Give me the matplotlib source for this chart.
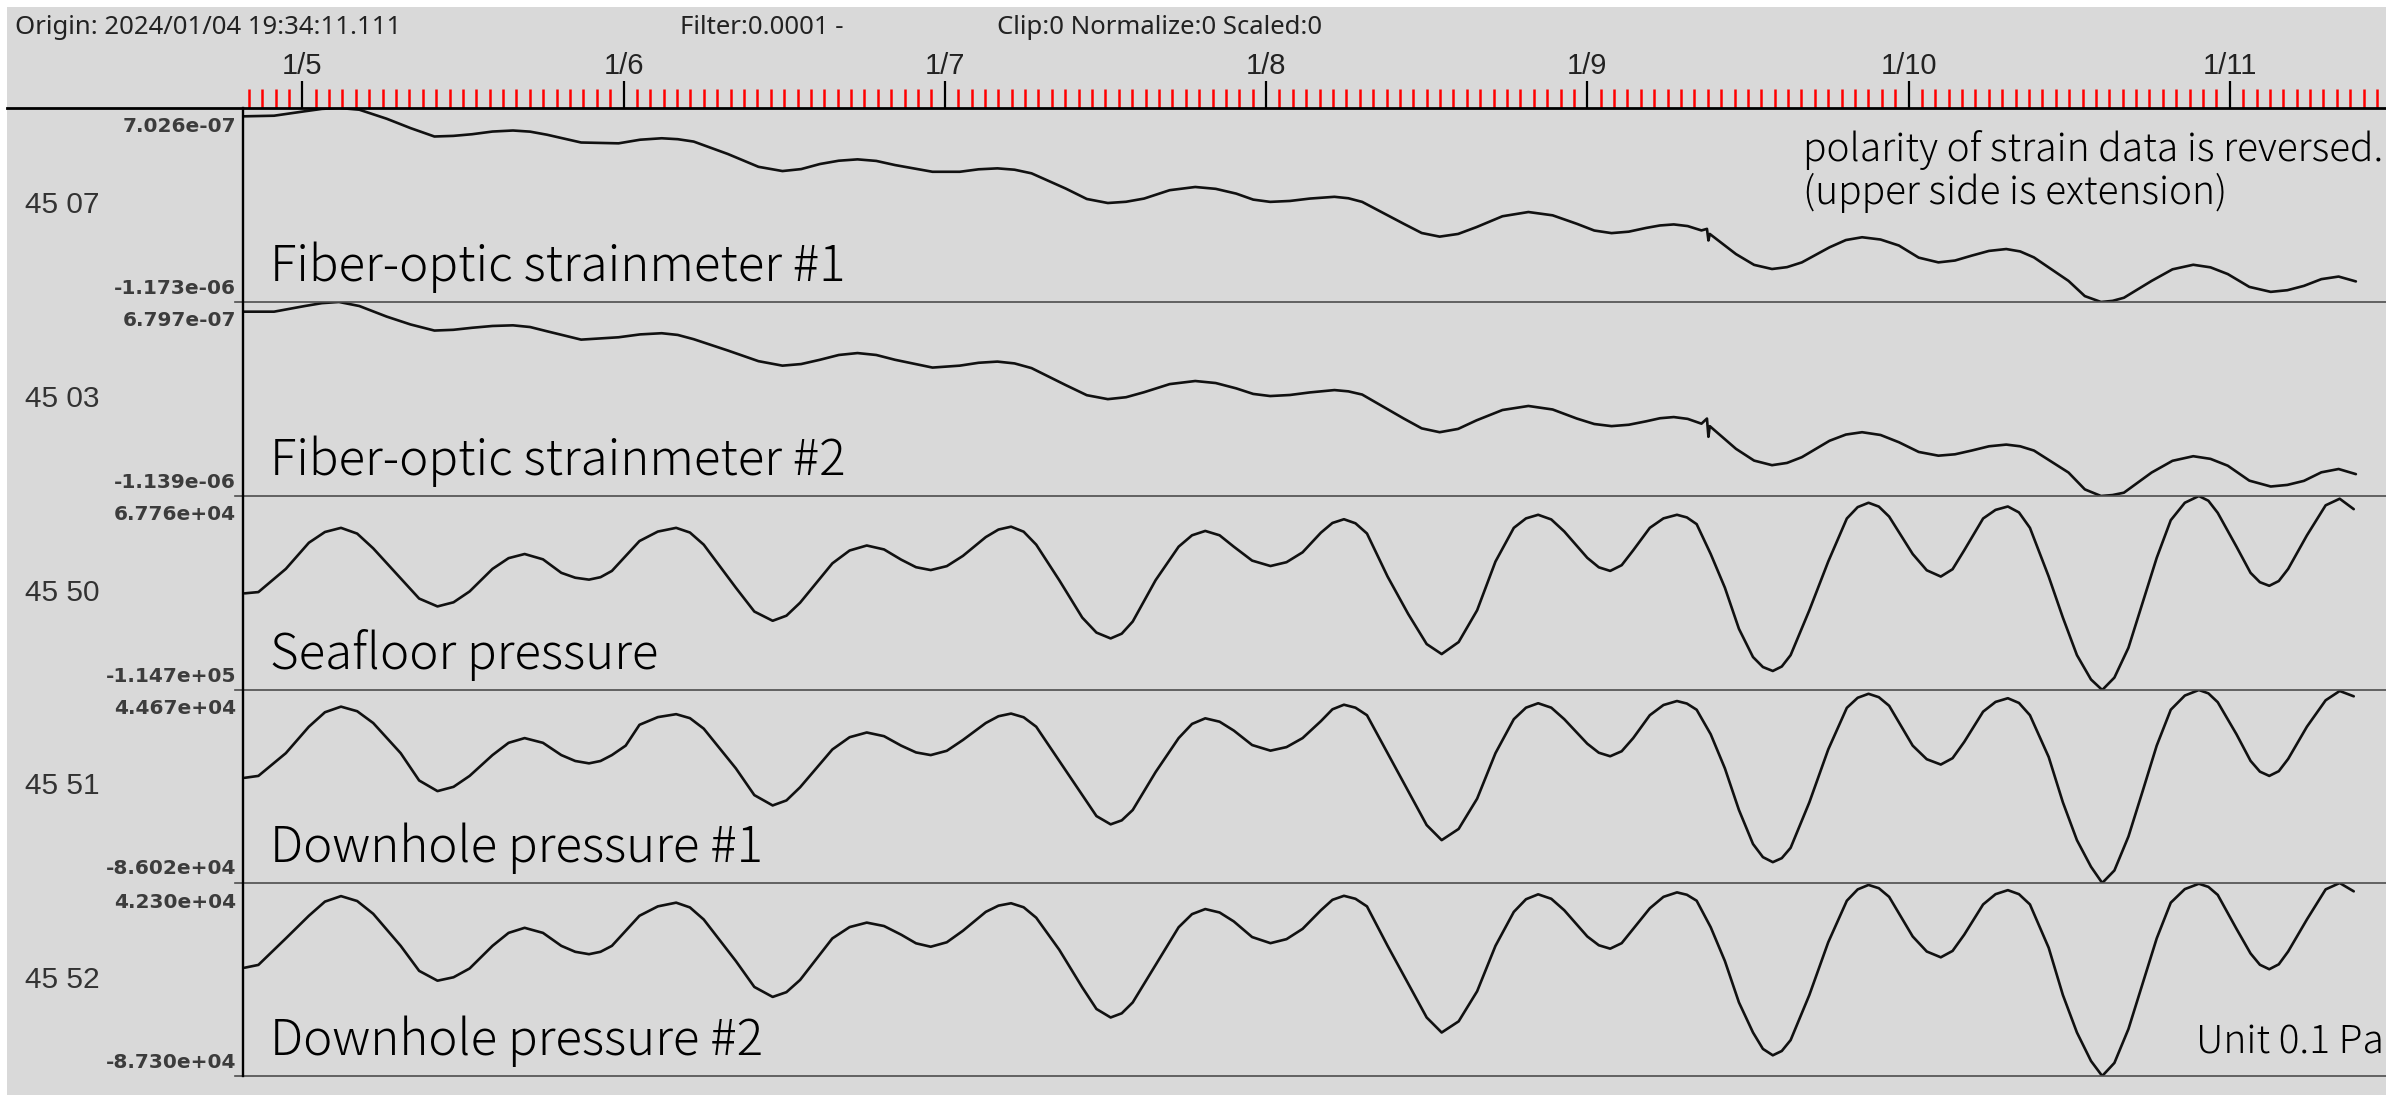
import datetime as dt
import numpy as np
import matplotlib
matplotlib.use("Agg")
import matplotlib.pyplot as plt
import matplotlib.dates as mdates
from matplotlib.lines import Line2D
from matplotlib.patches import Rectangle
from matplotlib.ticker import FuncFormatter

# canvas in pixels
W, H = 2386, 1095
DPI = 100
BG = '#d9d9d9'

origin = dt.datetime(2024, 1, 4, 19, 34, 11, 111000)
span_hours = 160.1

# hours after origin, pressure channels
t_press = [0.12, 1.15, 3.20, 4.92, 6.12, 7.32, 8.53, 9.73, 11.78, 13.16,
           14.53, 15.73, 16.93, 18.64, 19.84, 21.04, 22.41, 23.78, 24.82, 25.85,
           26.71, 27.56, 28.59, 29.62, 30.99, 32.36, 33.39, 34.42, 36.82, 38.20,
           39.57, 40.60, 41.62, 44.03, 45.32, 46.60, 47.89, 49.17, 50.28, 51.38,
           52.58, 53.78, 55.49, 56.44, 57.38, 58.32, 59.26, 60.98, 62.70, 63.76,
           64.82, 65.65, 66.47, 68.18, 69.90, 70.90, 71.89, 72.96, 74.02, 75.39,
           76.76, 77.96, 79.16, 80.53, 81.39, 82.25, 83.11, 83.97, 85.51, 87.05,
           88.43, 89.55, 90.82, 92.20, 93.57, 94.94, 95.85, 96.76, 97.74, 98.71,
           100.43, 101.29, 102.14, 103.00, 103.86, 105.10, 106.12, 107.13, 107.87, 108.60,
           109.65, 110.71, 111.76, 112.81, 113.55, 114.29, 114.96, 115.62, 117.02, 118.43,
           119.82, 120.63, 121.44, 122.21, 122.98, 124.74, 125.79, 126.84, 127.72, 128.59,
           130.00, 130.93, 131.85, 132.68, 133.50, 134.90, 135.96, 137.01, 138.06, 138.90,
           139.81, 140.86, 141.92, 142.97, 144.02, 145.07, 146.12, 146.83, 147.53, 148.93,
           149.98, 150.68, 151.38, 152.09, 152.79, 154.19, 155.59, 156.64, 157.69]

# unit 0.1 Pa
seafloor = [-23800, -22600, -800, 23800, 33900, 37800, 32400, 18500, -9800, -28700,
            -36100, -32200, -22000, -800, 9300, 13200, 8200, -4500, -9100, -10900,
            -8600, -2700, 11400, 25400, 34300, 37800, 33400, 22000, -18500, -40900,
            -49600, -44800, -32600, 4400, 16500, 21200, 17500, 7900, 800, -1900,
            1800, 11400, 29100, 36200, 38900, 34200, 22000, -11400, -46600, -60700,
            -66200, -61700, -50300, -11400, 20100, 30800, 34900, 30800, 20100, 7000,
            1900, 5500, 14800, 33300, 42400, 45900, 42100, 32500, -8000, -43200,
            -71500, -80900, -69600, -39700, 6100, 37800, 46700, 50100, 45700, 34400,
            9600, 700, -2700, 2700, 16700, 37800, 46700, 50100, 47600, 41300,
            13200, -18500, -57200, -83700, -93100, -96800, -92600, -81900, -39700, 6100,
            46600, 57300, 61400, 57800, 48400, 13200, -2100, -8000, -1100, 16700,
            46600, 54700, 57900, 52300, 37800, -8000, -46600, -81900, -104800, -114700,
            -103000, -74900, -32600, 9600, 45000, 61400, 67760, 63300, 51900, 20100,
            -4500, -13300, -16700, -12200, -800, 30700, 59000, 65200, 55400]

downhole1 = [-14800, -13500, 1900, 19800, 29600, 33400, 30300, 22300, 1900, -16600,
             -23800, -20900, -13500, 600, 8900, 12100, 8900, 600, -3400, -5000,
             -3400, 600, 7000, 21100, 26300, 28300, 25600, 18500, -8400, -26500,
             -33500, -30100, -21200, 4400, 12700, 15900, 13400, 7000, 2400, 600,
             3500, 10800, 22300, 26900, 28700, 26200, 19800, -3300, -26300, -40700,
             -46300, -43600, -36600, -10900, 12100, 21700, 25500, 23200, 17200, 7400,
             3600, 6000, 12100, 23600, 31600, 34700, 32700, 27600, 1900, -23800,
             -46800, -57000, -49400, -28900, 1900, 24900, 32700, 35700, 32700, 24900,
             8300, 2200, -200, 3200, 12100, 27600, 34500, 37200, 35500, 31300,
             14700, -8400, -36600, -59600, -68500, -71900, -69200, -62200, -31400, 4400,
             32600, 39400, 42100, 39800, 34000, 7000, -2200, -5800, -1500, 9500,
             30000, 36600, 39100, 35900, 27600, -700, -31400, -57000, -75000, -86020,
             -77500, -54500, -23800, 7000, 31300, 40900, 44670, 42400, 36400, 14700,
             -3300, -10600, -13500, -10300, -2000, 19800, 37700, 44000, 40400]

downhole2 = [-14600, -12700, 5100, 20300, 29800, 33500, 30200, 21600, 100, -16700,
             -23300, -21000, -15100, 100, 8800, 12200, 8800, 100, -3900, -5500,
             -3900, 100, 10200, 20300, 26600, 29100, 25900, 17800, -10100, -27500,
             -34200, -31000, -22800, 5100, 12700, 15700, 13400, 7600, 1800, -500,
             2500, 10200, 22900, 27100, 28700, 26000, 19000, -2500, -27800, -42300,
             -48000, -45200, -37900, -12700, 12600, 21400, 24800, 22500, 16500, 6000,
             1900, 4600, 11500, 24000, 31000, 33700, 31700, 26600, 100, -25200,
             -48000, -58100, -50600, -30400, 100, 22900, 31400, 34700, 31700, 24000,
             6400, 500, -1800, 1900, 11500, 25300, 33000, 36000, 34400, 30400,
             12600, -10100, -37900, -58100, -69100, -73400, -70500, -63200, -32900, 2500,
             30400, 38000, 41000, 38800, 33000, 6400, -3700, -7600, -3300, 7600,
             27900, 34800, 37500, 34800, 27900, -1200, -32900, -58100, -77200, -87300,
             -78500, -55700, -25200, 5100, 29100, 38200, 41800, 39700, 34300, 11500,
             -5000, -12600, -15600, -12300, -3700, 17800, 38000, 42300, 36700]

# hours after origin, strain channels
t_strain = [0.03, 2.32, 4.62, 5.90, 7.17, 8.69, 10.73, 12.52, 14.30, 15.71,
            17.11, 18.64, 20.17, 21.45, 22.72, 25.26, 28.06, 29.67, 31.28, 32.48,
            33.67, 36.22, 38.51, 40.30, 41.70, 43.10, 44.51, 45.91, 47.31, 48.71,
            51.51, 53.55, 54.96, 56.36, 57.64, 58.91, 61.46, 63.04, 64.61, 65.97,
            67.32, 69.23, 71.14, 72.67, 74.20, 75.47, 76.74, 78.22, 79.70, 81.54,
            82.58, 83.61, 86.72, 88.06, 89.40, 90.78, 92.15, 94.09, 96.03, 97.84,
            99.65, 100.95, 102.24, 103.53, 104.82, 105.86, 106.89, 107.93, 108.96, 109.37,
            109.48, 109.58, 111.54, 112.89, 114.23, 115.35, 116.46, 118.53, 119.75, 120.96,
            122.34, 123.71, 125.19, 126.66, 127.90, 129.14, 130.44, 131.73, 132.77, 133.80,
            136.38, 137.60, 138.81, 139.67, 140.52, 142.59, 144.15, 145.70, 146.99, 148.28,
            149.89, 151.49, 152.73, 153.97, 155.27, 156.56, 157.85]

# strain in units of 1e-7 (sign reversed, up = extension)
strain1 = [6.22, 6.28, 6.71, 6.94, 7.03, 6.86, 5.99, 5.08, 4.27, 4.33,
           4.49, 4.75, 4.85, 4.74, 4.44, 3.69, 3.61, 3.96, 4.10, 4.01,
           3.78, 2.58, 1.34, 0.93, 1.12, 1.61, 1.93, 2.06, 1.91, 1.51,
           0.86, 0.86, 1.10, 1.19, 1.06, 0.71, -0.76, -1.77, -2.16, -2.04,
           -1.73, -0.92, -0.61, -0.79, -1.25, -1.83, -2.05, -1.96, -1.73, -1.56,
           -1.70, -2.05, -4.17, -5.06, -5.41, -5.15, -4.49, -3.44, -3.03, -3.35,
           -4.17, -4.82, -5.07, -4.93, -4.57, -4.33, -4.23, -4.39, -4.81, -4.66,
           -5.78, -5.15, -7.10, -8.14, -8.54, -8.36, -7.90, -6.44, -5.74, -5.47,
           -5.69, -6.27, -7.44, -7.90, -7.72, -7.25, -6.79, -6.61, -6.84, -7.42,
           -9.69, -11.16, -11.73, -11.62, -11.32, -9.69, -8.57, -8.13, -8.38, -9.03,
           -10.27, -10.75, -10.59, -10.17, -9.52, -9.27, -9.74]

strain2 = [5.89, 5.89, 6.42, 6.69, 6.80, 6.42, 5.43, 4.69, 4.12, 4.19,
           4.38, 4.55, 4.61, 4.45, 4.05, 3.27, 3.49, 3.76, 3.87, 3.71,
           3.31, 2.25, 1.25, 0.83, 0.98, 1.38, 1.83, 2.01, 1.83, 1.38,
           0.65, 0.83, 1.10, 1.21, 1.04, 0.60, -0.99, -1.94, -2.31, -2.13,
           -1.66, -0.90, -0.61, -0.80, -1.30, -1.82, -2.02, -1.92, -1.68, -1.46,
           -1.58, -1.88, -4.13, -5.05, -5.41, -5.10, -4.30, -3.33, -2.95, -3.28,
           -4.13, -4.64, -4.84, -4.71, -4.39, -4.10, -3.99, -4.16, -4.61, -4.13,
           -5.84, -4.84, -6.97, -8.07, -8.50, -8.29, -7.75, -6.21, -5.63, -5.41,
           -5.67, -6.35, -7.26, -7.61, -7.48, -7.13, -6.73, -6.57, -6.73, -7.13,
           -9.19, -10.77, -11.39, -11.30, -11.08, -9.19, -8.09, -7.66, -7.91, -8.55,
           -9.95, -10.50, -10.35, -9.97, -9.17, -8.86, -9.34]

stations = ['45 07', '45 03', '45 50', '45 51', '45 52']
names = ['Fiber-optic strainmeter #1', 'Fiber-optic strainmeter #2', 'Seafloor pressure',
         'Downhole pressure #1', 'Downhole pressure #2']
y_max = [7.026e-07, 6.797e-07, 6.776e+04, 4.467e+04, 4.230e+04]
y_min = [-1.173e-06, -1.139e-06, -1.147e+05, -8.602e+04, -8.730e+04]

traces = [(t_strain, np.array(strain1) * 1e-7),
          (t_strain, np.array(strain2) * 1e-7),
          (t_press, seafloor),
          (t_press, downhole1),
          (t_press, downhole2)]

# layout (pixels)
X0 = 243
tops = [108, 302, 496, 690, 883]
bots = [302, 496, 690, 883, 1076]

JP = ['Noto Sans CJK JP', 'DejaVu Sans']


def fx(px):
    return px / W


def fy(py):
    return 1 - py / H


fig = plt.figure(figsize=(W / DPI, H / DPI), dpi=DPI, facecolor='white')
fig.patches.append(Rectangle((fx(7), 0), 1 - fx(7), fy(7), transform=fig.transFigure,
                             facecolor=BG, edgecolor='none', zorder=-10))

t0 = mdates.date2num(origin)
t1 = t0 + span_hours / 24

for i in range(5):
    top, bot = tops[i], bots[i]
    ax = fig.add_axes([fx(X0), fy(bot), 1 - fx(X0), (bot - top) / H])
    tt, vv = traces[i]
    ax.plot(t0 + np.array(tt) / 24, vv, color='#111111', lw=1.9,
            solid_joinstyle='round', solid_capstyle='round')
    ax.set_xlim(t0, t1)
    ax.set_ylim(y_min[i], y_max[i])
    ax.axis('off')
    ax.patch.set_visible(False)

    # scale values
    fig.text(fx(236), fy(top + 19), f'{y_max[i]:.3e}', ha='right', va='center',
             fontsize=14.5, fontweight='bold', color='#3c3c3c')
    fig.text(fx(236), fy(bot - 14), f'{y_min[i]:.3e}', ha='right', va='center',
             fontsize=14.5, fontweight='bold', color='#3c3c3c')
    # station code
    fig.text(fx(25), fy((top + bot) / 2), stations[i], ha='left', va='center',
             fontsize=21.5, family='Liberation Sans', color='#333333')
    # trace name
    fig.text(fx(270), fy(bot - 21), names[i], ha='left', va='baseline',
             fontsize=35.5, family=JP, fontweight='light', color='black')

    fig.add_artist(Line2D([fx(235), 1], [fy(bot)] * 2, color='#4d4d4d', lw=1.2))

# time ruler
axr = fig.add_axes([fx(X0), fy(108), 1 - fx(X0), 27 / H])
axr.set_xlim(t0, t1)
axr.set_ylim(0, 1)
axr.patch.set_visible(False)
for s in axr.spines.values():
    s.set_visible(False)
axr.yaxis.set_visible(False)
axr.xaxis.set_major_locator(mdates.DayLocator())
axr.xaxis.set_minor_locator(mdates.HourLocator())
axr.xaxis.set_major_formatter(FuncFormatter(
    lambda x, pos: f'{mdates.num2date(x).month}/{mdates.num2date(x).day}'))
axr.tick_params(which='major', direction='in', length=19.4, width=1.6, color='black',
                bottom=True, top=False, labelbottom=False, labeltop=True, pad=1,
                labelsize=21, labelcolor='#222222')
axr.tick_params(which='minor', direction='in', length=13.5, width=1.8, color='red',
                bottom=True, top=False)
for lab in axr.get_xticklabels():
    lab.set_family('Liberation Sans')

fig.add_artist(Line2D([fx(7), 1], [fy(108)] * 2, color='black', lw=2.0))
fig.add_artist(Line2D([fx(X0)] * 2, [fy(108), fy(1076)], color='black', lw=1.7))

# header
hdr = dict(va='center', ha='left', fontsize=18.5, family='Noto Sans', color='#222222')
fig.text(fx(15), fy(27), 'Origin: 2024/01/04 19:34:11.111', **hdr)
fig.text(fx(680), fy(27), 'Filter:0.0001 -', **hdr)
fig.text(fx(997), fy(27), 'Clip:0 Normalize:0 Scaled:0', **hdr)

# notes
fig.text(fx(1803), fy(161), 'polarity of strain data is reversed.', ha='left', va='baseline',
         fontsize=28, family=JP, fontweight='light', color='black')
fig.text(fx(1803), fy(204), '(upper side is extension)', ha='left', va='baseline',
         fontsize=28, family=JP, fontweight='light', color='black')
fig.text(fx(2196), fy(1053), 'Unit 0.1 Pa', ha='left', va='baseline',
         fontsize=28, family=JP, fontweight='light', color='black')

fig.savefig('out.png', dpi=DPI, facecolor='white')
